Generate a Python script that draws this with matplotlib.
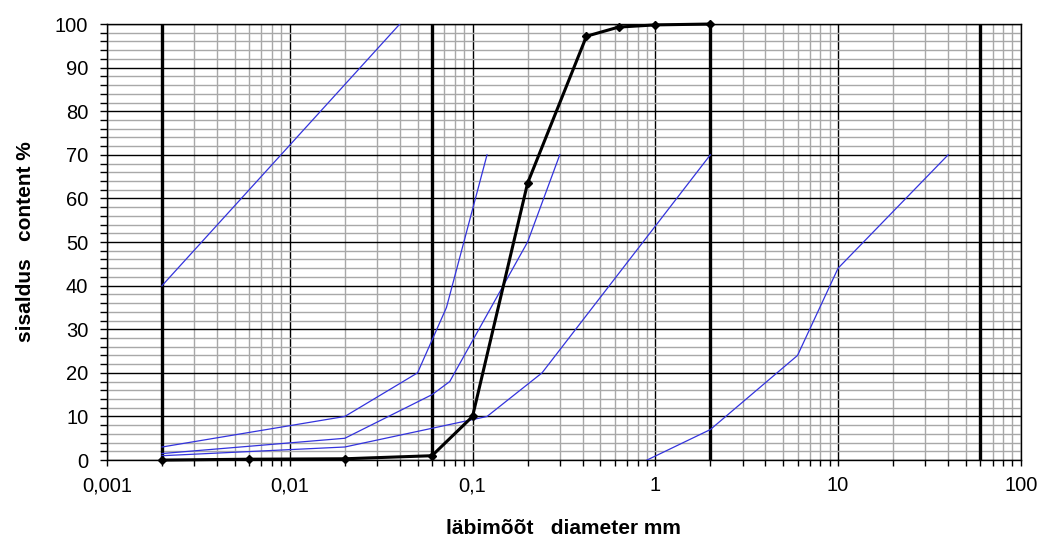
import numpy as np
import matplotlib.pyplot as plt
from matplotlib.ticker import FixedLocator, FixedFormatter, MultipleLocator, NullFormatter

# --- data ---
# measured grading curve (black, with markers)
sieve_mm = [0.002, 0.006, 0.02, 0.06, 0.1, 0.2, 0.42, 0.63, 1.0, 2.0]
passing = [0.0, 0.2, 0.3, 1.0, 10.0, 63.5, 97.2, 99.3, 99.8, 100.0]

# reference envelope lines (thin blue)
ref_lines = [
    ([0.002, 0.04], [40, 100]),
    ([0.002, 0.02, 0.05, 0.072, 0.12], [3, 10, 20, 35, 70]),
    ([0.002, 0.02, 0.06, 0.075, 0.2, 0.3], [1.5, 5, 15, 18, 50, 70]),
    ([0.002, 0.02, 0.12, 0.24, 2.0], [1, 3, 10, 20, 70]),
    ([0.9, 2.0, 6.0, 10.0, 40.0], [0, 7, 24, 44, 70]),
]

# fraction boundaries (thick black verticals)
boundaries = [0.002, 0.06, 2, 60]

x_ticks = [0.001, 0.01, 0.1, 1, 10, 100]
x_labels = ["0,001", "0,01", "0,1", "1", "10", "100"]

plt.rcParams['font.family'] = ['Liberation Sans', 'DejaVu Sans']

fig = plt.figure(figsize=(10.42, 5.4), dpi=100)
ax = fig.add_axes([0.1027, 0.148, 0.877, 0.8075])
ax.set_xscale('log')
ax.set_xlim(0.001, 100)
ax.set_ylim(0, 100)

# grid
minor_x = [m * 10.0 ** e for e in range(-3, 2) for m in range(2, 10)]
ax.xaxis.set_major_locator(FixedLocator(x_ticks))
ax.xaxis.set_major_formatter(FixedFormatter(x_labels))
ax.xaxis.set_minor_locator(FixedLocator(minor_x))
ax.xaxis.set_minor_formatter(NullFormatter())
ax.yaxis.set_major_locator(MultipleLocator(10))
ax.yaxis.set_minor_locator(MultipleLocator(2))

ax.grid(which='major', color='black', linewidth=1.0, zorder=1)
ax.grid(which='minor', color='#a8a8a8', linewidth=1.0, zorder=0)
ax.set_axisbelow(True)

ax.tick_params(which='both', direction='out', length=5, width=1, labelsize=14.5, color='black')
ax.tick_params(axis='y', which='both', pad=8.5)
ax.tick_params(axis='x', which='both', length=4.5, pad=7)
for sp in ax.spines.values():
    sp.set_color('black')
    sp.set_linewidth(1)

for b in boundaries:
    ax.axvline(b, color='black', linewidth=2.4, zorder=3)

for xs, ys in ref_lines:
    ax.plot(xs, ys, color='#3333dd', linewidth=0.9, zorder=4)

ax.plot(sieve_mm, passing, color='black', linewidth=2.2, marker='D',
        markersize=4.5, zorder=5, clip_on=False)

ax.set_xlabel('läbimõõt   diameter mm', fontsize=15, fontweight='bold', labelpad=17)
ax.set_ylabel('sisaldus   content %', fontsize=15, fontweight='bold', labelpad=14)

fig.savefig('out.png', dpi=100)
